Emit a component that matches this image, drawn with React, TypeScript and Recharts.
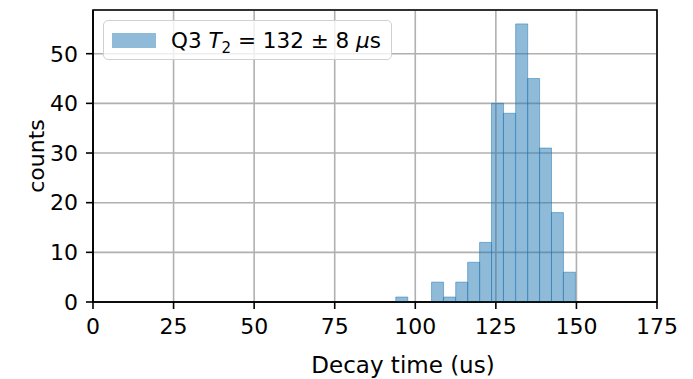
import React from 'react';
import { ComposedChart, Bar, XAxis, YAxis, CartesianGrid, Legend, ReferenceArea } from 'recharts';

// histogram bins (centre of each bin, us) and counts
const binCenters = [95.8, 99.5, 103.2, 106.9, 110.6, 114.4, 118.1, 121.8, 125.5, 129.2, 133.0, 136.7, 140.4, 144.1, 147.8];
const counts = [1, 0, 0, 4, 1, 4, 8, 12, 40, 38, 56, 45, 31, 18, 6];
const xTicks = [0, 25, 50, 75, 100, 125, 150, 175];
const yTicks = [0, 10, 20, 30, 40, 50];

const data = binCenters.map((t, i) => ({ t, count: counts[i] }));

const font = '"DejaVu Sans", sans-serif';
const axisStyle = { stroke: '#000', strokeWidth: 1.6 };
const tickStyle = { fill: '#000', fontSize: 22, fontFamily: font };

const renderLegend = () => (
  <div
    style={{
      display: 'flex',
      alignItems: 'center',
      boxSizing: 'border-box',
      height: 40,
      width: 289,
      padding: '0 0 0 8px',
      border: '1.6px solid #d0d0d0',
      borderRadius: 5,
      background: 'rgba(255,255,255,0.8)',
      fontFamily: font,
      fontSize: 21.5,
      color: '#000',
      whiteSpace: 'nowrap',
    }}
  >
    <span style={{ display: 'inline-block', width: 44, height: 15, background: 'rgba(31,119,180,0.5)', marginRight: 15 }} />
    <span>
      Q3 <i>T</i>
      <span style={{ fontSize: 15, position: 'relative', top: 5 }}>2</span> = 132 ± 8 <i>μ</i>s
    </span>
  </div>
);

export default function App() {
  return (
    <div style={{ position: 'absolute', left: 0, top: 0 }}>
      <ComposedChart
        width={693}
        height={379}
        data={data}
        barCategoryGap={0}
        barGap={0}
        margin={{ top: 10, right: 36, bottom: 0, left: 0 }}
      >
        <CartesianGrid stroke="#b0b0b0" strokeWidth={1.6} />
        <XAxis
          dataKey="t"
          type="number"
          domain={[0, 175]}
          ticks={xTicks}
          interval={0}
          height={77}
          tickSize={7}
          tickMargin={9}
          axisLine={axisStyle}
          tickLine={axisStyle}
          tick={tickStyle}
          label={{ value: 'Decay time (us)', position: 'insideBottom', offset: 6, dx: 28, fill: '#000', fontSize: 23, fontFamily: font }}
        />
        <YAxis
          type="number"
          domain={[0, 58.8]}
          ticks={yTicks}
          interval={0}
          width={93}
          tickSize={7}
          tickMargin={8}
          axisLine={axisStyle}
          tickLine={axisStyle}
          tick={tickStyle}
          label={{ value: 'counts', angle: -90, position: 'center', dx: -10, fill: '#000', fontSize: 22, fontFamily: font }}
        />
        <Bar
          dataKey="count"
          fill="#1f77b4"
          fillOpacity={0.5}
          stroke="#1f77b4"
          strokeOpacity={0.5}
          strokeWidth={1}
          isAnimationActive={false}
        />
        <ReferenceArea x1={0} x2={175} y1={0} y2={58.8} fill="none" stroke="#000" strokeWidth={1.6} />
        <Legend
          layout="horizontal"
          verticalAlign="middle"
          align="center"
          content={renderLegend}
          wrapperStyle={{ left: 103, top: 20, width: 'auto' }}
        />
      </ComposedChart>
    </div>
  );
}
